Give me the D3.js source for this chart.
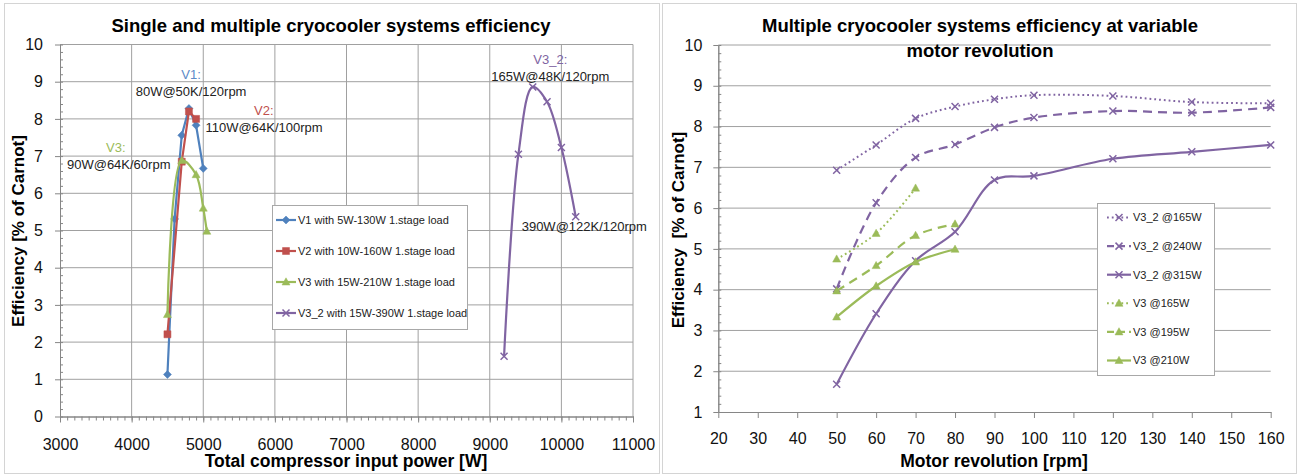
<!DOCTYPE html>
<html>
<head>
<meta charset="utf-8">
<script src="https://cdn.jsdelivr.net/npm/d3@7"></script>
<style>
body{margin:0;background:#fff;}
svg{display:block;font-family:"Liberation Sans",Arial,sans-serif;}
</style>
</head>
<body>
<svg id="chart" width="1299" height="474"></svg>
<script>
// ---- left chart: efficiency vs total compressor input power
const v1Power = [4500, 4600, 4700, 4800, 4900, 5000];
const v1Eff = [1.13, 5.31, 7.56, 8.28, 7.83, 6.67];
const v2Power = [4500, 4700, 4800, 4900];
const v2Eff = [2.21, 6.85, 8.2, 8.0];
const v3Power = [4500, 4700, 4900, 5000, 5050];
const v3Eff = [2.74, 6.88, 6.5, 5.6, 4.98];
const v32Power = [9200, 9400, 9600, 9800, 10000, 10200];
const v32Eff = [1.62, 7.05, 8.86, 8.46, 7.23, 5.37];
const leftLegend = ["V1 with 5W-130W 1.stage load", "V2 with 10W-160W 1.stage load",
  "V3 with 15W-210W 1.stage load", "V3_2 with 15W-390W 1.stage load"];
const leftXTicks = [3000, 4000, 5000, 6000, 7000, 8000, 9000, 10000, 11000];
const leftYTicks = [0, 1, 2, 3, 4, 5, 6, 7, 8, 9, 10];

// ---- right chart: efficiency vs motor revolution
const rpm = [50, 60, 70, 80, 90, 100, 120, 140, 160];
const v32at165 = [6.93, 7.55, 8.2, 8.49, 8.67, 8.77, 8.75, 8.6, 8.57];
const v32at240 = [4.02, 6.13, 7.24, 7.56, 7.98, 8.22, 8.38, 8.34, 8.47];
const v32at315 = [1.68, 3.41, 4.71, 5.42, 6.69, 6.79, 7.21, 7.38, 7.55];
const v3Rpm = [50, 60, 70, 80];
const v3at165 = [4.75, 5.38, 6.49];
const v3at195 = [3.97, 4.59, 5.33, 5.61];
const v3at210 = [3.33, 4.09, 4.68, 4.99];
const rightLegend = ["V3_2 @165W", "V3_2 @240W", "V3_2 @315W", "V3 @165W", "V3 @195W", "V3 @210W"];
const rightXTicks = [20, 30, 40, 50, 60, 70, 80, 90, 100, 110, 120, 130, 140, 150, 160];
const rightYTicks = [1, 2, 3, 4, 5, 6, 7, 8, 9, 10];

// annotations of the left chart, placed in data units
const notes = [
  {t: "V1:", x: 4830, y: 9.2, c: "#5d8ac7"},
  {t: "80W@50K/120rpm", x: 4830, y: 8.74, c: "#222"},
  {t: "V2:", x: 5845, y: 8.24, c: "#c0504d"},
  {t: "110W@64K/100rpm", x: 5850, y: 7.78, c: "#222"},
  {t: "V3:", x: 3780, y: 7.24, c: "#9bbb59"},
  {t: "90W@64K/60rpm", x: 3820, y: 6.78, c: "#222"},
  {t: "V3_2:", x: 9845, y: 9.6, c: "#8064a2"},
  {t: "165W@48K/120rpm", x: 9845, y: 9.15, c: "#222"},
  {t: "390W@122K/120rpm", x: 10320, y: 5.1, c: "#222"}
];

const blue = "#4f81bd", red = "#c0504d", green = "#9bbb59", purple = "#8064a2";
const gridColor = "#a0a0a0";
const dotted = "1.8,3", dashed = "9,6";

const svg = d3.select("#chart");

// panel frames
svg.append("rect").attr("x", 4.5).attr("y", 3.5).attr("width", 655).attr("height", 470)
  .attr("fill", "none").attr("stroke", "#d4d4d4");
svg.append("rect").attr("x", 662.5).attr("y", 3.5).attr("width", 634).attr("height", 470)
  .attr("fill", "none").attr("stroke", "#d4d4d4");

function marker(type) {
  if (type == "diamond") return "M0,-4L4,0L0,4L-4,0Z";
  if (type == "square") return "M-3.5,-3.5H3.5V3.5H-3.5Z";
  if (type == "triangle") return "M0,-4.2L4,3L-4,3Z";
  return "M-3.5,-3.5L3.5,3.5M-3.5,3.5L3.5,-3.5";
}

function drawSeries(g, xs, ys, x, y, color, type, curve, dash) {
  const pts = ys.map((v, i) => [xs[i], v]);
  const line = d3.line().x(d => x(d[0])).y(d => y(d[1])).curve(curve);
  g.append("path").attr("d", line(pts)).attr("fill", "none")
    .attr("stroke", color).attr("stroke-width", dash == dotted ? 2 : 2.2)
    .attr("stroke-dasharray", dash || null);
  g.selectAll(null).data(pts).enter().append("path")
    .attr("transform", d => `translate(${x(d[0])},${y(d[1])})`)
    .attr("d", marker(type))
    .attr("fill", type == "x" ? "none" : color)
    .attr("stroke", color).attr("stroke-width", type == "x" ? 1.5 : 0.5);
}

function legendItem(g, lx, ly, color, type, dash, label, w) {
  g.append("line").attr("x1", lx).attr("x2", lx + w).attr("y1", ly).attr("y2", ly)
    .attr("stroke", color).attr("stroke-width", dash == dotted ? 2 : 2.2).attr("stroke-dasharray", dash || null);
  g.append("path").attr("transform", `translate(${lx + w / 2},${ly})`).attr("d", marker(type))
    .attr("fill", type == "x" ? "none" : color).attr("stroke", color)
    .attr("stroke-width", type == "x" ? 1.5 : 0.5);
  g.append("text").attr("x", lx + w + 2).attr("y", ly).attr("dy", "0.35em")
    .attr("font-size", 11).attr("fill", "#222").text(label);
}

const smooth = d3.curveCatmullRom.alpha(0.5);

// ================= LEFT CHART =================
const xL = d3.scaleLinear().domain([3000, 11000]).range([60, 633]);
const yL = d3.scaleLinear().domain([0, 10]).range([416.5, 44.5]);
const gL = svg.append("g");

gL.selectAll(".hg").data(leftYTicks.slice(1)).enter().append("line")
  .attr("x1", xL(3000)).attr("x2", xL(11000)).attr("y1", d => yL(d)).attr("y2", d => yL(d))
  .attr("stroke", gridColor);
gL.selectAll(".vg").data(leftXTicks.slice(1)).enter().append("line")
  .attr("x1", d => xL(d)).attr("x2", d => xL(d)).attr("y1", yL(0)).attr("y2", yL(10))
  .attr("stroke", gridColor);

gL.append("g").attr("transform", `translate(${xL(3000)},0)`)
  .call(d3.axisLeft(yL).tickValues(leftYTicks).tickSize(5).tickPadding(12).tickSizeOuter(0));
gL.append("g").attr("transform", `translate(${xL(3000)},0)`)
  .call(d3.axisRight(yL).tickValues(d3.range(0, 10.01, 0.2)).tickSize(3).tickFormat("").tickSizeOuter(0));
gL.append("g").attr("transform", `translate(0,${yL(0)})`)
  .call(d3.axisBottom(xL).tickValues(leftXTicks).tickFormat(d3.format("d")).tickSize(6).tickPadding(16).tickSizeOuter(0));
gL.append("g").attr("transform", `translate(0,${yL(0)})`)
  .call(d3.axisBottom(xL).tickValues(d3.range(3000, 11001, 100)).tickSize(4).tickFormat("").tickSizeOuter(0));

drawSeries(gL, v1Power, v1Eff, xL, yL, blue, "diamond", d3.curveLinear);
drawSeries(gL, v2Power, v2Eff, xL, yL, red, "square", d3.curveLinear);
drawSeries(gL, v3Power, v3Eff, xL, yL, green, "triangle", smooth);
drawSeries(gL, v32Power, v32Eff, xL, yL, purple, "x", smooth);

gL.selectAll(".note").data(notes).enter().append("text")
  .attr("x", d => xL(d.x)).attr("y", d => yL(d.y)).attr("dy", "0.35em")
  .attr("text-anchor", "middle").attr("font-size", 13).attr("fill", d => d.c).text(d => d.t);

// legend
const lgL = gL.append("g");
lgL.append("rect").attr("x", 272.5).attr("y", 205.5).attr("width", 195).attr("height", 124)
  .attr("fill", "#fff").attr("stroke", "#a8a8a8");
const leftStyles = [[blue, "diamond"], [red, "square"], [green, "triangle"], [purple, "x"]];
leftLegend.forEach((s, i) => legendItem(lgL, 276, 220 + i * 31, leftStyles[i][0], leftStyles[i][1], null, s, 20));

gL.append("text").attr("x", 331).attr("y", 26).attr("dy", "0.35em").attr("text-anchor", "middle")
  .attr("font-size", 18.5).attr("font-weight", "bold").text("Single and multiple cryocooler systems efficiency");
gL.append("text").attr("transform", "translate(18,231) rotate(-90)").attr("dy", "0.35em")
  .attr("text-anchor", "middle").attr("font-size", 17).attr("font-weight", "bold")
  .text("Efficiency [% of Carnot]");
gL.append("text").attr("x", 346).attr("y", 461).attr("dy", "0.35em").attr("text-anchor", "middle")
  .attr("font-size", 17.5).attr("font-weight", "bold").text("Total compressor input power [W]");

// ================= RIGHT CHART =================
const xR = d3.scaleLinear().domain([20, 160]).range([718.3, 1270.7]);
const yR = d3.scaleLinear().domain([1, 10]).range([412, 45]);
const gR = svg.append("g");

gR.selectAll(".hg").data(rightYTicks.slice(1)).enter().append("line")
  .attr("x1", xR(20)).attr("x2", xR(160)).attr("y1", d => yR(d)).attr("y2", d => yR(d))
  .attr("stroke", gridColor);

gR.append("g").attr("transform", `translate(${xR(20)},0)`)
  .call(d3.axisLeft(yR).tickValues(rightYTicks).tickSize(5).tickPadding(11).tickSizeOuter(0));
gR.append("g").attr("transform", `translate(${xR(20)},0)`)
  .call(d3.axisRight(yR).tickValues(d3.range(1, 10.01, 0.2)).tickSize(3).tickFormat("").tickSizeOuter(0));
gR.append("g").attr("transform", `translate(0,${yR(1)})`)
  .call(d3.axisBottom(xR).tickValues(rightXTicks).tickSize(6).tickPadding(15).tickSizeOuter(0));

drawSeries(gR, rpm, v32at165, xR, yR, purple, "x", smooth, dotted);
drawSeries(gR, rpm, v32at240, xR, yR, purple, "x", smooth, dashed);
drawSeries(gR, rpm, v32at315, xR, yR, purple, "x", smooth);
drawSeries(gR, v3Rpm, v3at165, xR, yR, green, "triangle", smooth, dotted);
drawSeries(gR, v3Rpm, v3at195, xR, yR, green, "triangle", smooth, dashed);
drawSeries(gR, v3Rpm, v3at210, xR, yR, green, "triangle", smooth);

const lgR = gR.append("g");
lgR.append("rect").attr("x", 1097.5).attr("y", 203.5).attr("width", 117).attr("height", 172)
  .attr("fill", "#fff").attr("stroke", "#a8a8a8");
const rightStyles = [[purple, "x", dotted], [purple, "x", "7,4"], [purple, "x", null],
  [green, "triangle", dotted], [green, "triangle", "7,4"], [green, "triangle", null]];
rightLegend.forEach((s, i) => legendItem(lgR, 1107, 217.5 + i * 28.6, rightStyles[i][0], rightStyles[i][1], rightStyles[i][2], s, 24));

gR.append("text").attr("x", 980).attr("y", 26).attr("dy", "0.35em").attr("text-anchor", "middle")
  .attr("font-size", 18.5).attr("font-weight", "bold").text("Multiple cryocooler systems efficiency at variable");
gR.append("text").attr("x", 980).attr("y", 51).attr("dy", "0.35em").attr("text-anchor", "middle")
  .attr("font-size", 18.5).attr("font-weight", "bold").text("motor revolution");
gR.append("text").attr("transform", "translate(678,230) rotate(-90)").attr("dy", "0.35em")
  .attr("text-anchor", "middle").attr("font-size", 17).attr("font-weight", "bold")
  .style("white-space", "pre").text("Efficiency  [% of Carnot]");
gR.append("text").attr("x", 994).attr("y", 461).attr("dy", "0.35em").attr("text-anchor", "middle")
  .attr("font-size", 17.5).attr("font-weight", "bold").text("Motor revolution [rpm]");

// axis styling
svg.selectAll(".domain").attr("stroke", "#868686");
svg.selectAll(".tick line").attr("stroke", "#868686");
svg.selectAll(".tick text").attr("font-size", 16).attr("fill", "#111")
  .attr("font-family", "\"Liberation Sans\",Arial,sans-serif");
</script>
</body>
</html>
